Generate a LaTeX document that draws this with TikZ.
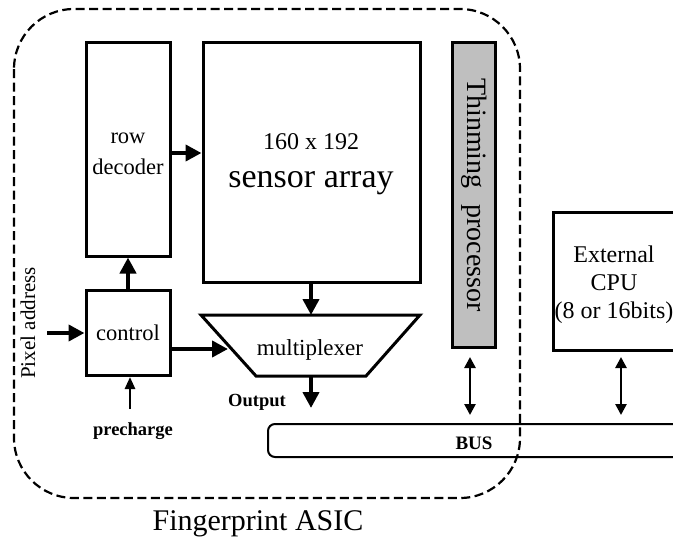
\documentclass[tikz,border=0pt]{standalone}
\usepackage{fontspec}
\setmainfont{Liberation Serif}
\usetikzlibrary{arrows.meta}
\begin{document}
\begin{tikzpicture}[x=1pt,y=-1pt,
  blockbox/.style={draw,line width=3pt,inner sep=0pt},
  bigarrow/.style={line width=4pt,-{Triangle[length=16pt,width=16pt]}},
  thinarrow/.style={line width=2.6pt,-{Triangle[length=12pt,width=10pt]}},
  dblarrow/.style={line width=2.6pt,{Triangle[length=11pt,width=11pt]}-{Triangle[length=11pt,width=11pt]}},
  lbl/.style={font=\fontsize{#1}{#1}\selectfont,inner sep=0pt},
  boldlbl/.style={font=\fontsize{#1}{#1}\selectfont\bfseries,inner sep=0pt}]
\useasboundingbox (0,0) rectangle (673,544);
\clip (0,0) rectangle (673,544);

% ASIC outline
\draw[line width=2.2pt,dash pattern=on 9pt off 4.5pt,rounded corners=60pt]
  (14,9) rectangle (520,498);
\node[lbl=30] (asic) at (258,524) {Fingerprint ASIC};

% blocks
\node[blockbox,minimum width=84pt,minimum height=214pt] (rowdec) at (128,149) {};
\node[lbl=22.5] (rowtxt) at (128,138) {row};
\node[lbl=22.5] (dectxt) at (128,167) {decoder};
\node[blockbox,minimum width=217pt,minimum height=240pt] (sensor) at (311.5,162) {};
\node[lbl=24] (dimtxt) at (311,142) {160 x 192};
\node[lbl=34] (arrtxt) at (311,183) {sensor array};
\node[blockbox,minimum width=84pt,minimum height=85pt] (control) at (128,333) {};
\node[lbl=22.5] (ctltxt) at (128,333) {control};

% multiplexer trapezoid
\draw[line width=3pt,line join=miter] (201,315) -- (420,315) -- (366,376) -- (256,376) -- cycle;
\coordinate (muxtop) at (311,315);
\coordinate (muxbot) at (311,376);
\coordinate (muxin) at (228,349);
\node[lbl=23] (muxtxt) at (310,350) {multiplexer};

% thinning processor
\node[blockbox,fill=black!25,minimum width=43pt,minimum height=305pt] (thin) at (474,195) {};
\node[lbl=28,rotate=-90] (thintxt) at (474,195) {Thinming\hspace{16pt}processor};

% external CPU
\draw[line width=3pt] (690,212) -- (553,212) -- (553,350) -- (690,350);
\node[lbl=24,align=center] (cputxt) at (614,285) {External\\[4pt]CPU\\[4pt](8 or 16bits)};

% bus
\draw[line width=2pt,rounded corners=7pt] (700,424) -- (268,424) -- (268,457) -- (700,457);
\node[boldlbl=19] (bustxt) at (474,443) {BUS};

% connectors
\draw[bigarrow] (rowdec.east |- 0,153) -- (sensor.west |- 0,153);
\draw[bigarrow] (control.north) -- (rowdec.south);
\coordinate (pa) at (47,333);
\draw[bigarrow] (pa) -- (control.west);
\node[lbl=21,rotate=90] (patxt) at (28,323) {Pixel address};
\coordinate (pc) at (130,409);
\draw[thinarrow] (pc) -- (control.south -| pc);
\node[boldlbl=18.5] (pctxt) at (133,431) {precharge};
\draw[bigarrow] (control.east |- muxin) -- (muxin);
\draw[bigarrow] (sensor.south -| muxtop) -- (muxtop);
\coordinate (outend) at (311,408);
\draw[bigarrow] (muxbot) -- (outend);
\node[boldlbl=18.5] (outtxt) at (257,402) {Output};
\coordinate (busA) at (470,415);
\coordinate (busB) at (621,415);
\draw[dblarrow] (470,357) -- (busA);
\draw[dblarrow] (621,357) -- (busB);
\end{tikzpicture}
\end{document}
